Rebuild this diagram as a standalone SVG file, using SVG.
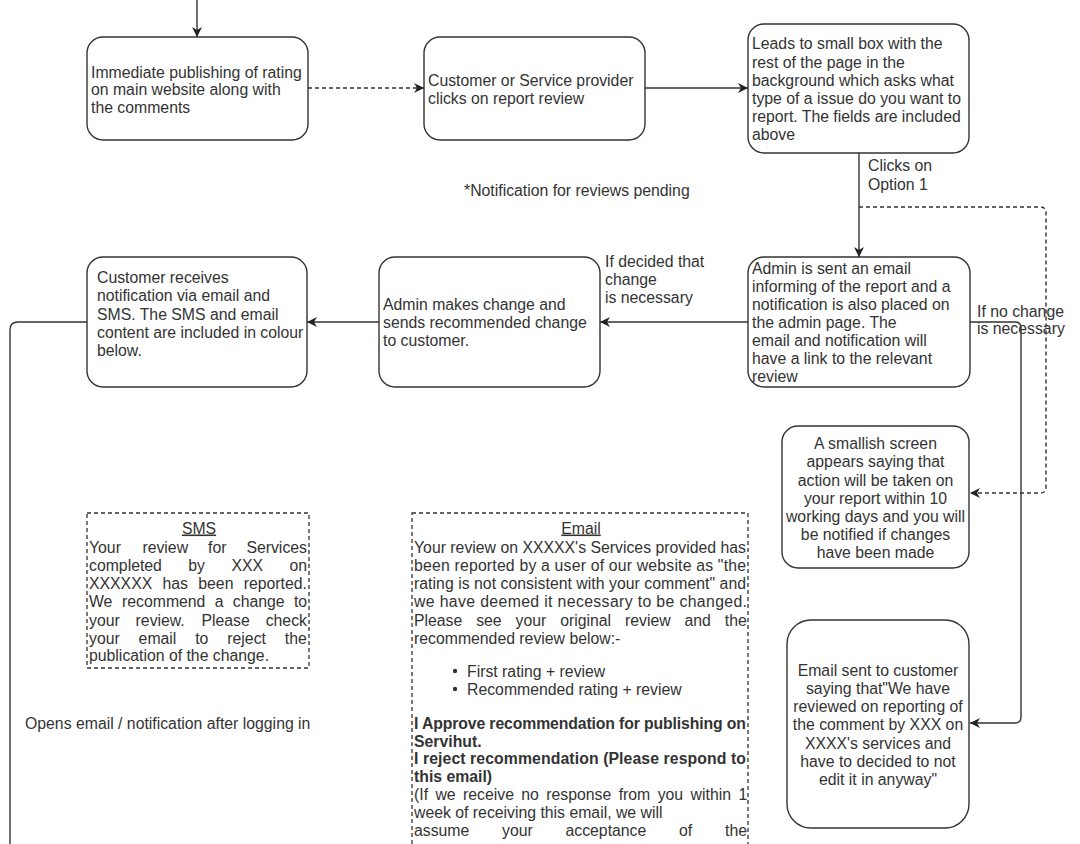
<svg xmlns="http://www.w3.org/2000/svg" width="1080" height="844" viewBox="0 0 1080 844">
<defs>
<style>
text{font-family:"Liberation Sans",Arial,sans-serif;font-size:15.8px;fill:#333}
.b{font-weight:bold}
.box{fill:#fff;stroke:#333;stroke-width:1.4}
.dbox{fill:#fff;stroke:#333;stroke-width:1.3;stroke-dasharray:4 3}
.c{fill:none;stroke:#333;stroke-width:1.4}
.d{stroke-dasharray:4 3}
.m{text-anchor:middle}
</style>
<marker id="ah" markerUnits="userSpaceOnUse" markerWidth="11" markerHeight="10" refX="10" refY="5" orient="auto">
<path d="M0,0 L10,5 L0,10 L3,5 Z" fill="#222"/>
</marker>
</defs>
<rect width="1080" height="844" fill="#fff"/>

<g id="connectors">
<path class="c" d="M197 0 V37" marker-end="url(#ah)"/>
<path class="c d" d="M308 88 H424" marker-end="url(#ah)"/>
<path class="c" d="M645 88 H748" marker-end="url(#ah)"/>
<path class="c" d="M859 153 V257" marker-end="url(#ah)"/>
<path class="c d" d="M859 207 H1040 Q1046 207 1046 213 V487 Q1046 493 1040 493 H970" marker-end="url(#ah)"/>
<path class="c" d="M748 322 H600" marker-end="url(#ah)"/>
<path class="c" d="M379 322 H307" marker-end="url(#ah)"/>
<path class="c" d="M87 322 H18 Q10 322 10 330 V844"/>
<path class="c" d="M970 322 H1015 Q1021 322 1021 328 V717 Q1021 723 1015 723 H970" marker-end="url(#ah)"/>
<text x="868" y="171">Clicks on</text>
<text x="868" y="189.5">Option 1</text>
<text x="605" y="267">If decided that</text>
<text x="605" y="285">change</text>
<text x="605" y="303">is necessary</text>
<text x="977" y="316.5">If no change</text>
<text x="977" y="334">is necessary</text>
</g>

<g id="n1">
<rect class="box" x="87" y="37" width="221" height="103" rx="16"/>
<text x="91" y="77.5">Immediate publishing of rating</text>
<text x="91" y="95">on main website along with</text>
<text x="91" y="112.5">the comments</text>
</g>

<g id="n2">
<rect class="box" x="424" y="37" width="221" height="103" rx="16"/>
<text x="428" y="85.5">Customer or Service provider</text>
<text x="428" y="103.5">clicks on report review</text>
</g>

<g id="n3">
<rect class="box" x="748" y="24" width="221" height="129" rx="16"/>
<text x="752" y="49">Leads to small box with the</text>
<text x="752" y="67.5">rest of the page in the</text>
<text x="752" y="86">background which asks what</text>
<text x="752" y="104">type of a issue do you want to</text>
<text x="752" y="122">report. The fields are included</text>
<text x="752" y="140">above</text>
</g>

<g id="note">
<text x="464" y="195.5">*Notification for reviews pending</text>
</g>

<g id="n4">
<rect class="box" x="748" y="257" width="222" height="130" rx="16"/>
<text x="752" y="273.5">Admin is sent an email</text>
<text x="752" y="291.5">informing of the report and a</text>
<text x="752" y="309.5">notification is also placed on</text>
<text x="752" y="327.5">the admin page. The</text>
<text x="752" y="346">email and notification will</text>
<text x="752" y="364">have a link to the relevant</text>
<text x="752" y="382">review</text>
</g>

<g id="n5">
<rect class="box" x="379" y="257" width="221" height="130" rx="16"/>
<text x="383" y="309.5">Admin makes change and</text>
<text x="383" y="327.5">sends recommended change</text>
<text x="383" y="346">to customer.</text>
</g>

<g id="n6">
<rect class="box" x="87" y="257" width="220" height="130" rx="16"/>
<text x="97" y="282.5">Customer receives</text>
<text x="97" y="301">notification via email and</text>
<text x="97" y="319.5">SMS. The SMS and email</text>
<text x="97" y="337.5">content are included in colour</text>
<text x="97" y="355.5">below.</text>
</g>

<g id="n7">
<rect class="box" x="782" y="426" width="187" height="142" rx="16"/>
<text class="m" x="875.5" y="448.5">A smallish screen</text>
<text class="m" x="875.5" y="467">appears saying that</text>
<text class="m" x="875.5" y="485.5">action will be taken on</text>
<text class="m" x="875.5" y="503.5">your report within 10</text>
<text class="m" x="875.5" y="521.5">working days and you will</text>
<text class="m" x="875.5" y="539.5">be notified if changes</text>
<text class="m" x="875.5" y="557.5">have been made</text>
</g>

<g id="n8">
<rect class="box" x="787" y="620" width="182" height="208" rx="24"/>
<text class="m" x="878" y="675.5">Email sent to customer</text>
<text class="m" x="878" y="693.5">saying that"We have</text>
<text class="m" x="878" y="711.5">reviewed on reporting of</text>
<text class="m" x="878" y="730">the comment by XXX on</text>
<text class="m" x="878" y="748.5">XXXX's services and</text>
<text class="m" x="878" y="766.5">have to decided to not</text>
<text class="m" x="878" y="785">edit it in anyway"</text>
</g>

<g id="sms">
<rect class="dbox" x="87" y="513" width="222" height="155"/>
<text class="m" x="199" y="533.5" text-decoration="underline">SMS</text>
<text y="552.5"><tspan x="89">Your</tspan><tspan x="142.4">review</tspan><tspan x="208">for</tspan><tspan x="246.4">Services</tspan></text>
<text y="570.5"><tspan x="89">completed</tspan><tspan x="188.3">by</tspan><tspan x="231.4">XXX</tspan><tspan x="289.4">on</tspan></text>
<text y="588.5"><tspan x="89">XXXXXX</tspan><tspan x="162.5">has</tspan><tspan x="198.3">been</tspan><tspan x="243.7">reported.</tspan></text>
<text y="606.5"><tspan x="89">We</tspan><tspan x="122">recommend</tspan><tspan x="214.7">a</tspan><tspan x="232.8">change</tspan><tspan x="293.9">to</tspan></text>
<text y="625.5"><tspan x="89">your</tspan><tspan x="135.6">review.</tspan><tspan x="201.5">Please</tspan><tspan x="265.7">check</tspan></text>
<text y="643.5"><tspan x="89">your</tspan><tspan x="138.6">email</tspan><tspan x="195.2">to</tspan><tspan x="227.3">reject</tspan><tspan x="284.8">the</tspan></text>
<text x="89" y="660.5">publication of the change.</text>
</g>

<g id="email">
<rect class="dbox" x="412" y="513" width="336" height="400"/>
<text class="m" x="581" y="533.5" text-decoration="underline">Email</text>
<text x="414" y="552.5" textLength="332" lengthAdjust="spacing">Your review on XXXXX's Services provided has</text>
<text x="414" y="570.5" textLength="332" lengthAdjust="spacing">been reported by a user of our website as  "the</text>
<text x="414" y="588.5" textLength="332" lengthAdjust="spacing">rating is not consistent with your comment" and</text>
<text x="414" y="606.5" textLength="333" lengthAdjust="spacing">we have deemed it necessary to be changed.</text>
<text y="625.5"><tspan x="414">Please</tspan><tspan x="476.2">see</tspan><tspan x="515.6">your</tspan><tspan x="560.2">original</tspan><tspan x="625">review</tspan><tspan x="684.5">and</tspan><tspan x="724.8">the</tspan></text>
<text x="414" y="643.5">recommended review below:-</text>
<circle cx="455" cy="671" r="2.2" fill="#333"/>
<circle cx="455" cy="689" r="2.2" fill="#333"/>
<text x="467" y="676.5">First rating + review</text>
<text x="467" y="694.5">Recommended rating + review</text>
<text class="b" x="414" y="728.5" textLength="332" lengthAdjust="spacing">I Approve recommendation for publishing on</text>
<text class="b" x="414" y="746.5">Servihut.</text>
<text class="b" x="414" y="763.5" textLength="332" lengthAdjust="spacing">I reject recommendation (Please respond to</text>
<text class="b" x="414" y="781.5">this email)</text>
<text y="799.5"><tspan x="414">(If</tspan><tspan x="435.4">we</tspan><tspan x="463">receive</tspan><tspan x="521.3">no</tspan><tspan x="546.3">response</tspan><tspan x="618.7">from</tspan><tspan x="657.7">you</tspan><tspan x="690.6">within</tspan><tspan x="738.4">1</tspan></text>
<text x="414" y="817.5">week of receiving this email, we will</text>
<text y="835.5"><tspan x="414">assume</tspan><tspan x="502">your</tspan><tspan x="565.5">acceptance</tspan><tspan x="679">of</tspan><tspan x="725">the</tspan></text>
</g>

<g id="opens">
<text x="25" y="728.5">Opens email / notification after logging in</text>
</g>
</svg>
